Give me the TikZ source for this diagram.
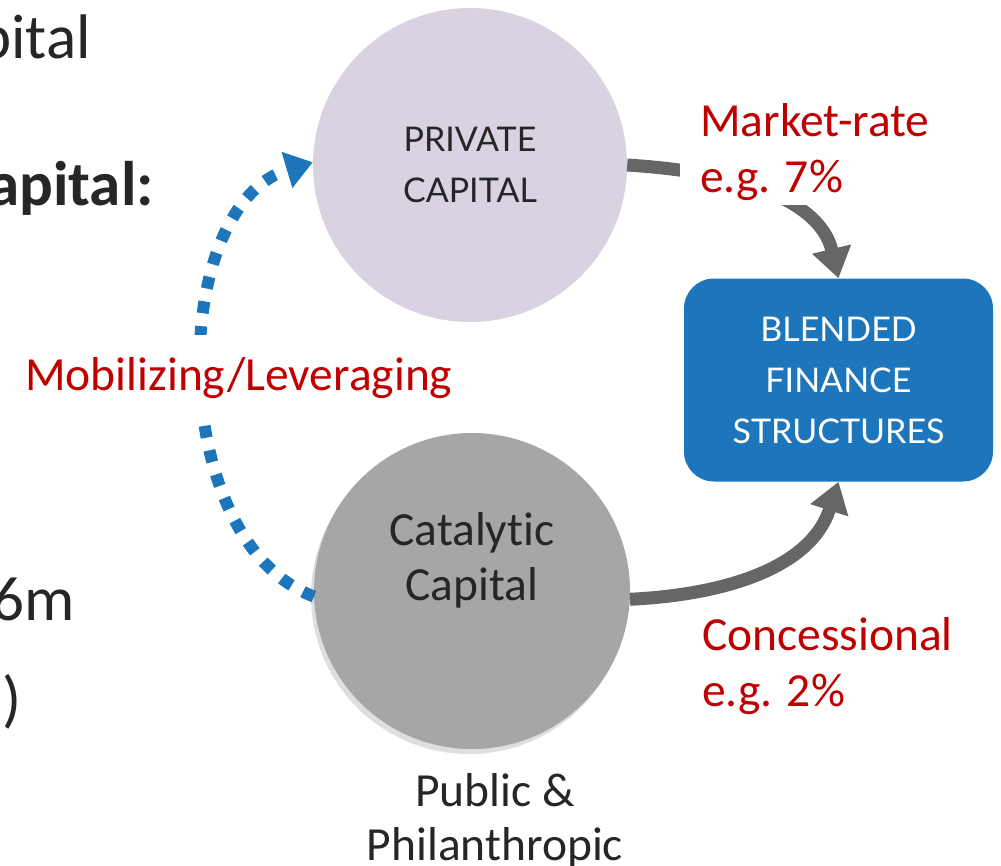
\documentclass[tikz,border=0pt]{standalone}
\usepackage{fontspec}
\setmainfont[Ligatures=NoCommon]{Carlito}
\newfontfamily\gillfont{Lato}
\usetikzlibrary{arrows.meta}
\definecolor{privfill}{RGB}{216,210,225}
\definecolor{catfill}{RGB}{166,166,166}
\definecolor{shadowc}{RGB}{222,222,222}
\definecolor{bluec}{RGB}{29,117,188}
\definecolor{arrowgray}{RGB}{102,102,102}
\definecolor{redc}{RGB}{192,0,0}
\definecolor{textdark}{RGB}{38,38,38}
\begin{document}
\begin{tikzpicture}[x=1pt,y=-1pt,
  calib/.style={font=\fontsize{47.5}{56}\selectfont, text=textdark, inner sep=0pt},
  bigleft/.style={font=\fontsize{63}{70}\selectfont, text=textdark, inner sep=0pt, anchor=base east},
  redlbl/.style={calib, text=redc, align=left, fill=white},
  flow/.style={draw=arrowgray, line width=13pt, -{Triangle[width=38pt,length=30pt]}},
  mobil/.style={draw=bluec, line width=12pt, dash pattern=on 12pt off 13pt, -{Triangle[width=36pt,length=27pt]}},
  bubble/.style={circle, minimum size=314pt, inner sep=0pt},
  ]
\useasboundingbox (0,0) rectangle (1001,865);

% left text fragments (cut off by the page edge)
\node[bigleft] (t1) at (91,58) {pital};
\node[bigleft, font=\fontsize{63}{70}\selectfont\bfseries] (t2) at (154,205) {apital:};
\node[bigleft] (t3) at (75,620) {6m};
\node[bigleft] (t4) at (22,720) {)};

% circles
\node[bubble, fill=privfill, text=textdark, align=center,
      font=\gillfont\fontsize{34}{51}\selectfont] (priv) at (470,165) {PRIVATE\\CAPITAL};
\fill[shadowc] (469,596) circle (158);
\node[bubble, fill=catfill, minimum size=316pt] (cat) at (472,591) {};
\node[calib, align=center, anchor=base, font=\fontsize{47.5}{55}\selectfont] (cattxt) at (472,600) {Catalytic\\Capital};

% blended box
\node[fill=bluec, rounded corners=30pt, minimum width=309pt, minimum height=203pt,
      inner sep=0pt, text=white, align=center,
      font=\gillfont\fontsize{34}{51}\selectfont] (box) at (838.5,380) {BLENDED\\FINANCE\\STRUCTURES};

% connectors
\draw[flow] (priv.east) .. controls (740,172) and (820,200) .. (box.north);
\draw[flow] (cat.-3) .. controls (720,595) and (810,570) .. (box.south);
\draw[mobil] (cat.182) .. controls (166,541) and (166,206) .. (priv.179);

% labels
\node[redlbl, anchor=base west, inner xsep=20pt, inner ysep=5pt] (mkt) at (680,192) {Market-rate\\e.g. 7\%};
\node[redlbl, anchor=base west, fill=none] (conc) at (702,706) {Concessional\\e.g. 2\%};
\node[calib, text=redc, fill=white, inner ysep=22pt, anchor=base west] (mob) at (25,390) {Mobilizing/Leveraging};
\node[calib, align=center, anchor=base, font=\fontsize{47.5}{54}\selectfont] (pub) at (495,860) {Public \&\\Philanthropic};
\end{tikzpicture}
\end{document}
